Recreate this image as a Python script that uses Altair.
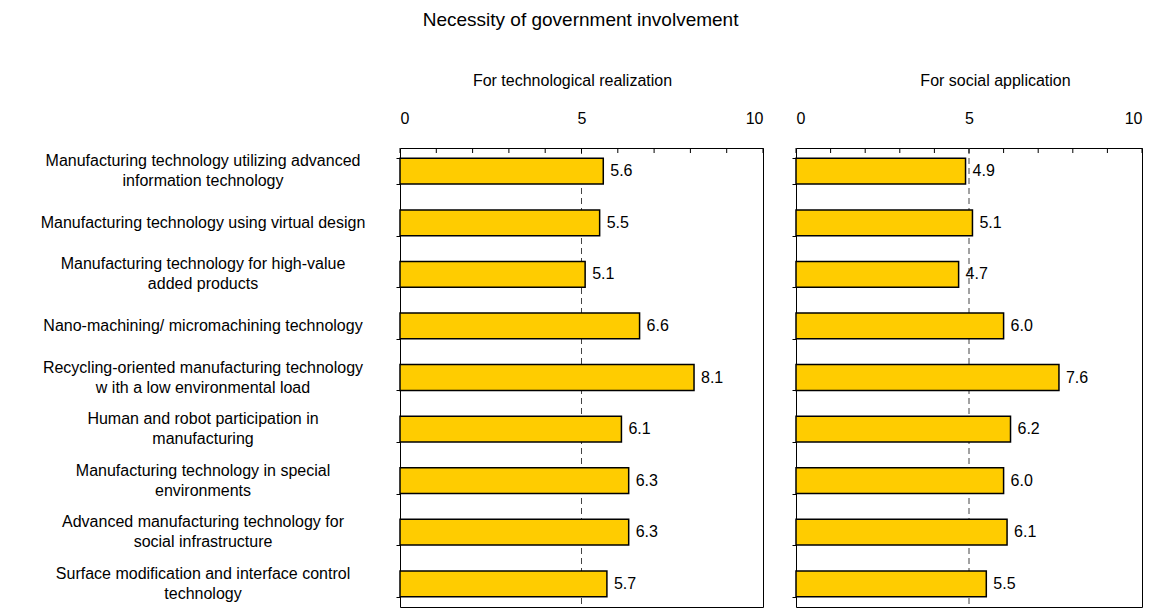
import altair as alt
import pandas as pd

categories = [
    "Manufacturing technology utilizing advanced|information technology",
    "Manufacturing technology using virtual design",
    "Manufacturing technology for high-value|added products",
    "Nano-machining/ micromachining technology",
    "Recycling-oriented manufacturing technology|w ith a low  environmental load",
    "Human and robot participation in|manufacturing",
    "Manufacturing technology in special|environments",
    "Advanced manufacturing technology for|social infrastructure",
    "Surface modification and interface control|technology",
]
tech_values = [5.6, 5.5, 5.1, 6.6, 8.1, 6.1, 6.3, 6.3, 5.7]
social_values = [4.9, 5.1, 4.7, 6.0, 7.6, 6.2, 6.0, 6.1, 5.5]
x_ticks = list(range(0, 11))
x_labels = [0, 5, 10]
ref_line = [5]

FONT = "Liberation Sans"
BAR_COLOR = "#FFCC00"

df = pd.DataFrame({"cat": categories, "tech": tech_values, "social": social_values})
ticks_df = pd.DataFrame({"t": x_ticks})
ref_df = pd.DataFrame({"g": ref_line})

xscale = alt.Scale(domain=[0, 10], nice=False, zero=True)
yscale = alt.Scale(paddingInner=0.5, paddingOuter=0.2)


def panel(field, title, show_labels, width, title_x):
    yaxis = alt.Axis(
        title=None,
        labels=False,
        tickBand="extent",
        tickSize=4,
        tickColor="black",
        domain=False,
    )
    xaxis = alt.Axis(
        orient="top",
        values=x_labels,
        ticks=False,
        tickSize=0,
        labelPadding=22,
        labelFontSize=16,
        labelFont=FONT,
        labelColor="black",
        grid=False,
        domain=False,
        title=title,
        titleFont=FONT,
        titleFontSize=16,
        titleFontWeight="normal",
        titleColor="black",
        titlePadding=22,
        titleX=title_x,
    )
    y = alt.Y("cat:N", sort=categories, scale=yscale, axis=yaxis)

    ref = alt.Chart(ref_df).mark_rule(
        strokeDash=[6, 4], color="#444444", strokeWidth=1
    ).encode(x=alt.X("g:Q", scale=xscale, axis=xaxis))

    bars = alt.Chart(df).mark_bar(
        color=BAR_COLOR, stroke="black", strokeWidth=1.5
    ).encode(
        x=alt.X(f"{field}:Q", scale=xscale, axis=xaxis),
        y=y,
    )

    text = alt.Chart(df).mark_text(
        align="left", baseline="middle", dx=7, fontSize=16, font=FONT, color="black"
    ).encode(
        x=alt.X(f"{field}:Q", scale=xscale, axis=xaxis),
        y=y,
        text=alt.Text(f"{field}:Q", format=".1f"),
    )

    tick_marks = alt.Chart(ticks_df).mark_rule(color="black", strokeWidth=1).encode(
        x=alt.X("t:Q", scale=xscale, axis=xaxis),
        y=alt.value(0),
        y2=alt.value(5),
    )

    layers = [ref, bars, text, tick_marks]

    if show_labels:
        label_style = dict(
            align="center", baseline="middle", fontSize=16, font=FONT,
            color="black", lineBreak="|", lineHeight=20,
        )
        one_line = alt.Chart(df).transform_filter(
            "indexof(datum.cat, '|') < 0"
        ).mark_text(**label_style).encode(
            y=y, x=alt.value(-197), text="cat:N"
        )
        two_line = alt.Chart(df).transform_filter(
            "indexof(datum.cat, '|') >= 0"
        ).mark_text(dy=-10, **label_style).encode(
            y=y, x=alt.value(-197), text="cat:N"
        )
        layers += [one_line, two_line]

    return alt.layer(*layers).properties(width=width, height=459)


left = panel("tech", "For technological realization", True, 363, 172)
right = panel("social", "For social application", False, 346, 199)

chart = alt.hconcat(left, right, spacing=33, bounds="flush").properties(
    title=alt.TitleParams(
        "Necessity of government involvement",
        fontSize=19,
        fontWeight="normal",
        font=FONT,
        color="black",
        anchor="middle",
        frame="bounds",
        offset=42,
        dx=-11,
    ),
    background="white",
    padding={"left": 32, "top": 2, "right": 2, "bottom": 5},
).configure_view(stroke="black", strokeWidth=1)

chart.save("out.html", embed_options={"renderer": "svg", "actions": False})
